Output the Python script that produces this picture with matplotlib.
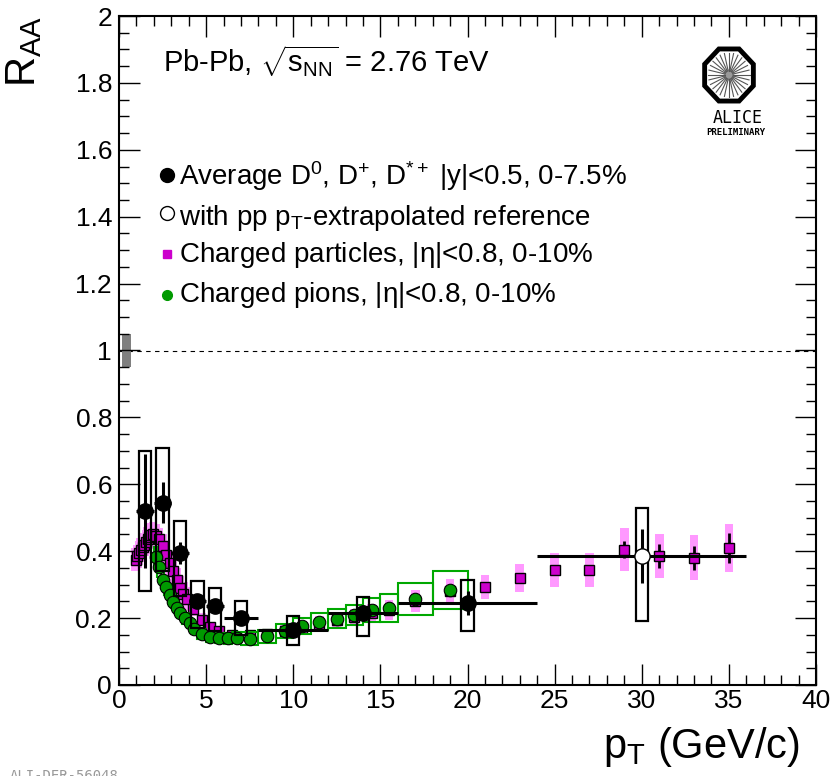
import numpy as np
import matplotlib
matplotlib.use('Agg')
import matplotlib.pyplot as plt
from matplotlib.patches import Rectangle, RegularPolygon, Circle
from matplotlib.ticker import MultipleLocator, FuncFormatter

plt.rcParams['font.family'] = ['Liberation Sans', 'DejaVu Sans']
plt.rcParams['mathtext.fontset'] = 'custom'
plt.rcParams['mathtext.rm'] = 'Liberation Sans'
plt.rcParams['mathtext.it'] = 'Liberation Sans'
plt.rcParams['mathtext.default'] = 'regular'

# average D0, D+, D*+ (0-7.5%)
d_pt = [1.5, 2.5, 3.5, 4.5, 5.5, 7, 10, 14, 20]
d_xerr = [0.5, 0.5, 0.5, 0.5, 0.5, 1, 2, 2, 4]
d_raa = [0.52, 0.545, 0.395, 0.25, 0.235, 0.20, 0.165, 0.215, 0.245]
d_stat = [0.17, 0.062, 0.033, 0.02, 0.02, 0.02, 0.018, 0.025, 0.035]
d_syst_lo = [0.28, 0.34, 0.265, 0.17, 0.16, 0.15, 0.12, 0.146, 0.16]
d_syst_hi = [0.70, 0.71, 0.49, 0.31, 0.29, 0.25, 0.205, 0.263, 0.314]

# with pT-extrapolated pp reference
dx_pt = [30]
dx_xerr = [6]
dx_raa = [0.385]
dx_stat = [0.08]
dx_syst_lo = [0.19]
dx_syst_hi = [0.53]

# charged particles |eta|<0.8, 0-10%
ch_pt = [0.95, 1.05, 1.15, 1.25, 1.35, 1.45, 1.55, 1.65, 1.75, 1.85, 1.95, 2.1, 2.3, 2.5, 2.7,
         2.9, 3.1, 3.3, 3.5, 3.7, 3.9, 4.25, 4.75, 5.25, 5.75, 6.5, 7.5, 8.5, 9.5, 10.5,
         11.5, 12.5, 13.5, 14.5, 15.5, 17, 19, 21, 23, 25, 27, 29, 31, 33, 35]
ch_raa = [0.375, 0.385, 0.395, 0.403, 0.412, 0.42, 0.428, 0.436, 0.443, 0.449, 0.451, 0.446, 0.435, 0.415, 0.39,
          0.365, 0.34, 0.315, 0.29, 0.272, 0.257, 0.228, 0.195, 0.172, 0.16, 0.15, 0.148, 0.152, 0.16, 0.17,
          0.183, 0.193, 0.203, 0.215, 0.225, 0.252, 0.282, 0.293, 0.32, 0.344, 0.344, 0.404, 0.386, 0.38, 0.41]
ch_stat = [0.003]*29 + [0.004, 0.004, 0.005, 0.005, 0.006, 0.006, 0.007, 0.009,
                        0.01, 0.01, 0.012, 0.013, 0.025, 0.035, 0.035, 0.045]
ch_syst = [0.035]*21 + [0.022, 0.019, 0.017, 0.016, 0.015, 0.015, 0.016, 0.018, 0.02,
                        0.022, 0.023, 0.025, 0.027, 0.03, 0.033, 0.035,
                        0.037, 0.042, 0.05, 0.05, 0.064, 0.065, 0.067, 0.072]

# charged pions |eta|<0.8, 0-10%
pi_pt = [2.1, 2.3, 2.5, 2.7, 2.9, 3.1, 3.3, 3.5, 3.8, 4.05, 4.3, 4.75, 5.25, 5.75,
         6.25, 6.75, 7.5, 8.5, 9.5, 10.5, 11.5, 12.5, 13.5, 14.5, 15.5, 17, 19]
pi_xerr = [0.1]*8 + [0.2, 0.125, 0.125, 0.25, 0.25, 0.25, 0.25, 0.25,
                     0.5, 0.5, 0.5, 0.5, 0.5, 0.5, 0.5, 0.5, 0.5, 1, 1]
pi_raa = [0.383, 0.352, 0.314, 0.292, 0.269, 0.249, 0.229, 0.216, 0.199, 0.184, 0.166, 0.152, 0.144, 0.141,
          0.140, 0.142, 0.139, 0.146, 0.161, 0.176, 0.189, 0.198, 0.209, 0.224, 0.230, 0.257, 0.284]
pi_syst = [0.03, 0.028, 0.025, 0.023, 0.021, 0.02, 0.018, 0.017, 0.016, 0.015, 0.014, 0.014, 0.014, 0.015,
           0.016, 0.017, 0.018, 0.019, 0.021, 0.023, 0.026, 0.028, 0.031, 0.035, 0.041, 0.049, 0.057]

fig = plt.figure(figsize=(8.33, 7.76), dpi=100)
ax = fig.add_axes([119/833, 1-685/776, 697/833, 669/776])

# charged particles
for x, y, s in zip(ch_pt, ch_raa, ch_syst):
    ax.add_patch(Rectangle((x-0.25, y-s), 0.5, 2*s, facecolor='#ff99ff', edgecolor='none', zorder=1))
ax.errorbar(ch_pt, ch_raa, yerr=ch_stat, fmt='s', ms=7.5, mfc='#cc00cc', mec='black', mew=1,
            ecolor='black', elinewidth=2, capsize=0, zorder=2)

# charged pions
for x, y, w, s in zip(pi_pt, pi_raa, pi_xerr, pi_syst):
    ax.add_patch(Rectangle((x-w, y-s), 2*w, 2*s, facecolor='none', edgecolor='#00a800', lw=1.5, zorder=3))
ax.plot(pi_pt, pi_raa, 'o', ms=9, mfc='#009a00', mec='black', mew=0.8, zorder=4)

# D mesons
for x, lo, hi in zip(d_pt + dx_pt, d_syst_lo + dx_syst_lo, d_syst_hi + dx_syst_hi):
    ax.add_patch(Rectangle((x-0.35, lo), 0.7, hi-lo, facecolor='none', edgecolor='black', lw=1.6, zorder=5))
ax.errorbar(d_pt, d_raa, xerr=d_xerr, yerr=d_stat, fmt='o', ms=11, mfc='black', mec='black',
            ecolor='black', elinewidth=2.2, capsize=0, zorder=6)
ax.errorbar(dx_pt, dx_raa, xerr=dx_xerr, yerr=dx_stat, fmt='o', ms=11, mfc='white', mec='black', mew=1,
            ecolor='black', elinewidth=2.2, capsize=0, zorder=6)

ax.axhline(1, color='black', lw=0.8, ls=(0, (4, 4)), zorder=0)
ax.add_patch(Rectangle((0.2, 0.95), 0.5, 0.1, facecolor='#7f7f7f', edgecolor='none', zorder=1))

ax.set_xlim(0, 40)
ax.set_ylim(0, 2)
ax.xaxis.set_major_locator(MultipleLocator(5))
ax.xaxis.set_minor_locator(MultipleLocator(1))
ax.yaxis.set_major_locator(MultipleLocator(0.2))
ax.yaxis.set_minor_locator(MultipleLocator(0.05))
ax.yaxis.set_major_formatter(FuncFormatter(lambda v, p: '%g' % round(v, 2)))
ax.tick_params(which='both', direction='in', top=True, right=True, width=1, labelsize=19)
ax.tick_params(which='major', length=15)
ax.tick_params(which='minor', length=7.5)
ax.tick_params(axis='x', pad=3)
ax.tick_params(axis='y', pad=5)
for sp in ax.spines.values():
    sp.set_linewidth(1.5)

fig.text(800/833, 1-758/776, r'p$_{T}$ (GeV/c)', fontsize=30, ha='right', va='baseline')
fig.text(44/833, 1-16/776, r'R$_{AA}$', fontsize=30, rotation=90, ha='right', va='top')

# header and legend
def axp(px, py):
    return (px-119)/697, (685-py)/669

ax.text(*axp(163, 72), r'Pb-Pb, $\sqrt{s_{NN}}$ = 2.76 TeV', transform=ax.transAxes, fontsize=21, va='baseline')
leg_marker = [dict(marker='o', ms=10, mfc='black', mec='black'),
              dict(marker='o', ms=10, mfc='white', mec='black', mew=1),
              dict(marker='s', ms=6, mfc='#cc00cc', mec='#cc00cc'),
              dict(marker='o', ms=7, mfc='#009a00', mec='#009a00')]
leg_text = [r'Average D$^{0}$, D$^{+}$, D$^{*+}$ |y|<0.5, 0-7.5%',
            r'with pp p$_{T}$-extrapolated reference',
            r'Charged particles, |$\eta$|<0.8, 0-10%',
            r'Charged pions, |$\eta$|<0.8, 0-10%']
leg_my = [175, 213, 254, 295]
leg_ty = [185, 225, 262, 302]
for m, t, my, ty in zip(leg_marker, leg_text, leg_my, leg_ty):
    ax.plot(*axp(167, my), transform=ax.transAxes, ls='none', clip_on=False, **m)
    ax.text(*axp(179, ty), t, transform=ax.transAxes, fontsize=20, va='baseline')

# ALICE logo
lax = fig.add_axes([700/833, 1-106/776, 58/833, 62/776])
lax.set_xlim(-1.1, 1.1)
lax.set_ylim(-1.1, 1.1)
lax.axis('off')
lax.add_patch(RegularPolygon((0, 0), 8, radius=1.0, orientation=np.pi/8, facecolor='white',
                             edgecolor='black', lw=3.5))
for a in np.linspace(0, 2*np.pi, 28, endpoint=False):
    lax.plot([0.15*np.cos(a), 0.78*np.cos(a)], [0.15*np.sin(a), 0.78*np.sin(a)], color='#555555', lw=0.8)
lax.add_patch(Circle((0, 0), 0.2, facecolor='#999999', edgecolor='none'))
fig.text(738/833, 1-123/776, 'ALICE', fontsize=12, family='DejaVu Sans Mono', ha='center', va='baseline')
fig.text(736/833, 1-135/776, 'PRELIMINARY', fontsize=6.5, family='DejaVu Sans Mono', weight='bold',
         ha='center', va='baseline')

fig.text(10/833, -4/776, 'ALI-DER-56048', fontsize=10, family='DejaVu Sans Mono', color='#999999',
         va='baseline')

fig.savefig('out.png', dpi=100)
